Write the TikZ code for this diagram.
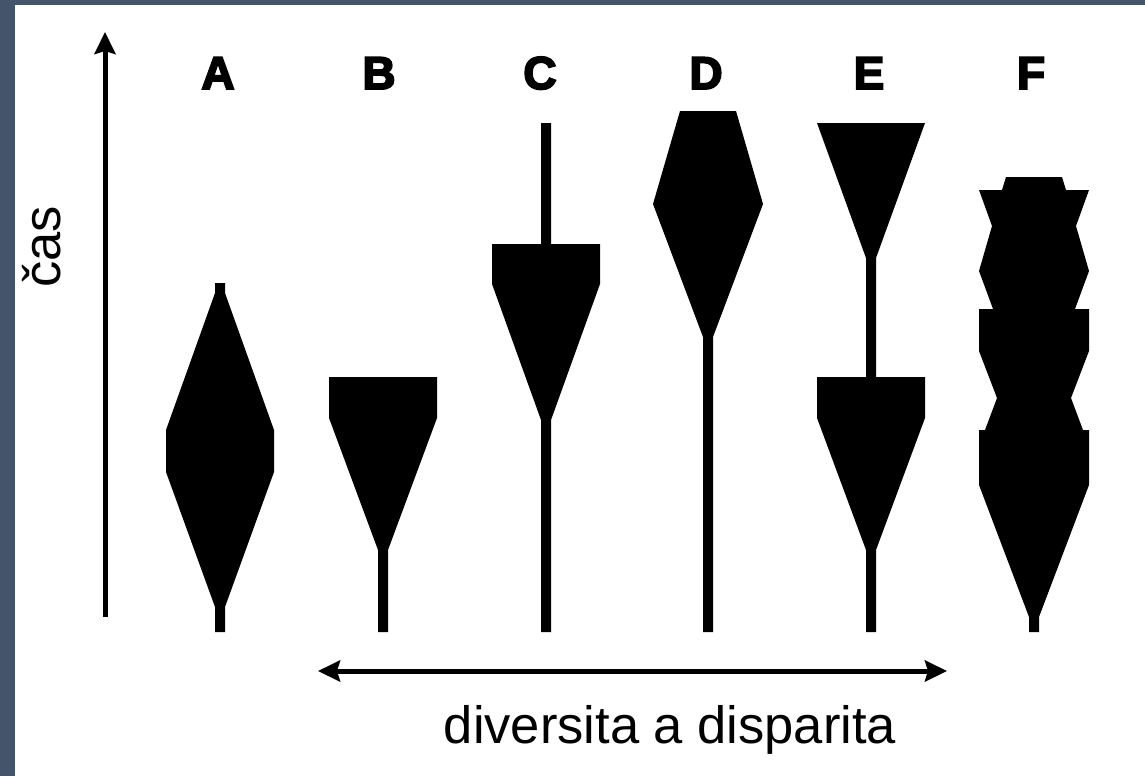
\documentclass[tikz,border=0pt]{standalone}
\usepackage{fontspec}
\setmainfont{Liberation Sans}
\newfontfamily\blk{Liberation Sans}[BoldFeatures={FakeBold=4}]
\usetikzlibrary{arrows.meta}
\definecolor{slate}{RGB}{68,84,106}
\tikzset{
  lineage/.style={fill=black,draw=none},
  axis/.style={line width=5pt,draw=black},
  tipA/.style={-{Stealth[length=22pt,width=21pt,inset=3pt]}},
  tipAB/.style={{Stealth[length=22pt,width=21pt,inset=3pt]}-{Stealth[length=22pt,width=21pt,inset=3pt]}},
  letter/.style={anchor=base,inner sep=0pt,font=\blk\bfseries\fontsize{46}{50}\selectfont},
  label/.style={anchor=base,inner sep=0pt,font=\fontsize{52.5}{60}\selectfont}
}
\begin{document}
\begin{tikzpicture}[x=1pt,y=-1pt]
\useasboundingbox (0,0) rectangle (1145,776);
\fill[slate] (0,0) rectangle (1145,776);
\fill[white] (15,5) rectangle (1145,776);

% axes
\coordinate (vlow) at (105,617);
\coordinate (vtop) at (105,32);
\draw[axis,tipA] (vlow) -- (vtop);
\coordinate (hl) at (318,671);
\coordinate (hr) at (947,671);
\draw[axis,tipAB] (hl) -- (hr);

\node[label,rotate=90] (cas) at (60,247) {čas};
\node[label] (div) at (670,743) {diversita a disparita};

% letters
\node[letter] (lA) at (218,89) {A};
\node[letter] (lB) at (379,89) {B};
\node[letter] (lC) at (540,89) {C};
\node[letter] (lD) at (706,89) {D};
\node[letter] (lE) at (869,89) {E};
\node[letter] (lF) at (1031,89) {F};

% A
\begin{scope}[xshift=220pt]
\fill[lineage] (-5,283) -- (5,283) -- (5,293) -- (54,430) -- (54,472) -- (5,607) -- (5,632)
  -- (-5,632) -- (-5,607) -- (-54,472) -- (-54,430) -- (-5,293) -- cycle;
\end{scope}
% B
\begin{scope}[xshift=383pt]
\fill[lineage] (-54,377) -- (54,377) -- (54,418) -- (5,550) -- (5,632) -- (-5,632) -- (-5,550) -- (-54,418) -- cycle;
\end{scope}
% C
\begin{scope}[xshift=546pt]
\fill[lineage] (-5,123) -- (5,123) -- (5,244) -- (54,244) -- (54,284) -- (5,420) -- (5,632)
  -- (-5,632) -- (-5,420) -- (-54,284) -- (-54,244) -- (-5,244) -- cycle;
\end{scope}
% D
\begin{scope}[xshift=708pt]
\fill[lineage] (-28,111) -- (28,111) -- (55,204) -- (5,337) -- (5,632) -- (-5,632) -- (-5,337) -- (-55,204) -- cycle;
\end{scope}
% E
\begin{scope}[xshift=871pt]
\fill[lineage] (-54,123) -- (54,123) -- (5,258) -- (5,377) -- (54,377) -- (54,418) -- (5,550) -- (5,632)
  -- (-5,632) -- (-5,550) -- (-54,418) -- (-54,377) -- (-5,377) -- (-5,258) -- cycle;
\end{scope}
% F
\begin{scope}[xshift=1034pt]
\fill[lineage] (28,177) -- (32,190) -- (55,190) -- (42,226) -- (55,271) -- (41,309) -- (55,309)
  -- (55,351) -- (37,398) -- (49,430) -- (55,430) -- (55,485) -- (5,617) -- (5,632)
  -- (-5,632) -- (-5,617) -- (-55,485) -- (-55,430) -- (-49,430) -- (-37,398) -- (-55,351)
  -- (-55,309) -- (-41,309) -- (-55,271) -- (-42,226) -- (-55,190) -- (-32,190) -- (-28,177) -- cycle;
\end{scope}
\end{tikzpicture}
\end{document}
